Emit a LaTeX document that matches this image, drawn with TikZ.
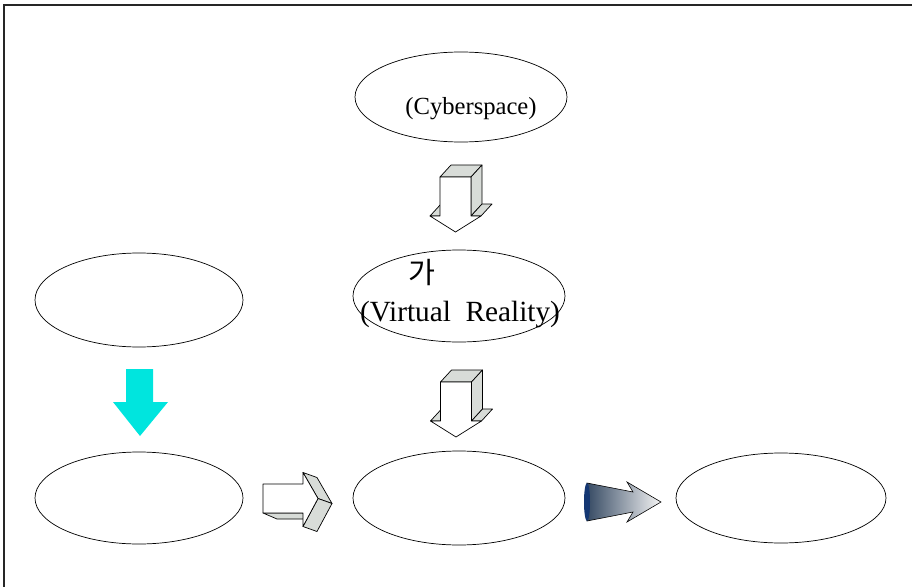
\documentclass[tikz,border=0pt]{standalone}
\usepackage{fontspec}
\setmainfont{Liberation Serif}
\newfontfamily\korfont{Noto Sans CJK KR}
\usetikzlibrary{shapes.geometric, positioning, calc}
\definecolor{facegray}{RGB}{216,220,216}
\definecolor{cyanarrow}{RGB}{0,229,222}
\definecolor{conenavy}{RGB}{20,55,115}
\definecolor{conedark}{RGB}{55,75,100}
\tikzset{
  bubble/.style={draw, ellipse, inner sep=0pt, line width=0.6pt},
  face/.style={draw, fill=facegray, line join=round, line width=0.6pt},
  front/.style={draw, fill=white, line join=round, line width=0.6pt},
  % hollow 3D arrow pointing down, origin at top centre of front face
  downblock/.pic={
    \draw[face] (-25.5,39) -- (-14.5,27) -- (-4.5,27) -- (-15.5,39) -- cycle;
    \draw[face] (-15.5,0) -- (-4.5,-12) -- (26.5,-12) -- (15.5,0) -- cycle;
    \draw[face] (15.5,0) -- (26.5,-12) -- (26.5,27) -- (15.5,39) -- cycle;
    \draw[face] (15.5,39) -- (26.5,27) -- (36.5,27) -- (25.5,39) -- cycle;
    \draw[front] (-15.5,0) -- (15.5,0) -- (15.5,39) -- (25.5,39) -- (0,55)
      -- (-25.5,39) -- (-15.5,39) -- cycle;
  },
  % hollow 3D arrow pointing right, origin at left centre of front face
  rightblock/.pic={
    \draw[face] (0,14.5) -- (40,14.5) -- (54,20.5) -- (14,20.5) -- cycle;
    \draw[face] (40,-26) -- (55,0) -- (69,5) -- (54,-21) -- cycle;
    \draw[face] (55,0) -- (40,28) -- (54,33) -- (69,5) -- cycle;
    \draw[front] (0,-14.5) -- (40,-14.5) -- (40,-26) -- (55,0) -- (40,28)
      -- (40,14.5) -- (0,14.5) -- cycle;
  }
}

\begin{document}
\begin{tikzpicture}[x=0.03cm, y=-0.03cm]
    \useasboundingbox (0,0) rectangle (912,587);

    % Frame
    \draw[line width=1.4pt, black!85] (4,587) -- (4,5) -- (912,5);

    % Ellipses
    \node[bubble, minimum width=6.36cm, minimum height=2.7cm] (cyber) at (461,97) {};
    \node[bubble, minimum width=6.36cm, minimum height=2.76cm] (vr) at (459,296) {};
    \node[bubble, minimum width=6.24cm, minimum height=2.82cm] (lefttop) at (139,300) {};
    \node[bubble, minimum width=6.24cm, minimum height=2.76cm] (botleft) at (139,498) {};
    \node[bubble, minimum width=6.36cm, minimum height=2.82cm] (botmid) at (459,498) {};
    \node[bubble, minimum width=6.3cm, minimum height=2.7cm] (botright) at (781,498) {};

    % Labels
    \node (cybertext) at (471,109) {\fontsize{21}{24}\selectfont (Cyberspace)};
    \node (vrkor) at (422,273) {\korfont\fontsize{25}{28}\selectfont 가};
    \node (vrtext) at (460,314) {\fontsize{25}{28}\selectfont (Virtual\hspace{0.5em}Reality)};

    % Block arrows
    \pic at (455.5,177) {downblock};
    \pic at (456,382) {downblock};
    \pic at (263,498.5) {rightblock};

    % Cyan arrow
    \fill[cyanarrow] (126,369) -- (153,369) -- (153,402) -- (168,402) -- (140,436)
      -- (113,402) -- (126,402) -- cycle;

    % Cone arrow
    \shade[left color=conedark, right color=gray!8, draw=black, line width=0.5pt]
      (587,483) -- (633,492) -- (627,482) -- (661,502) -- (627,522) -- (633,512)
      -- (587,521) -- cycle;
    \fill[conenavy] (587,502) ellipse (3 and 19);
\end{tikzpicture}
\end{document}
